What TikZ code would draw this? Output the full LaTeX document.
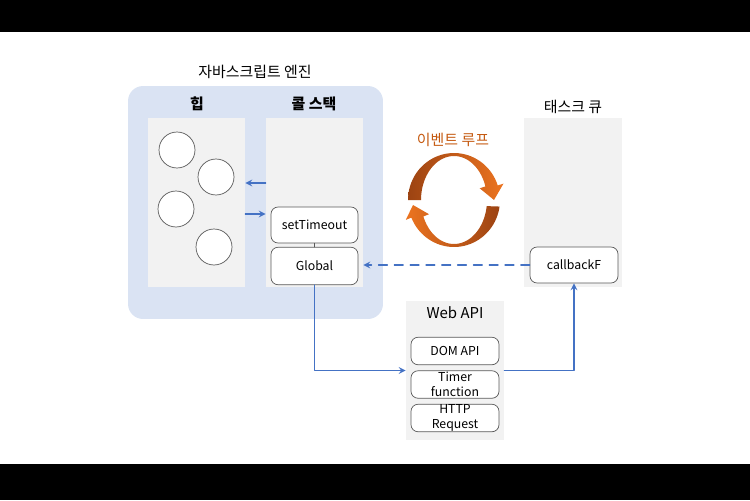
\documentclass[tikz,border=0pt]{standalone}
\usepackage{fontspec}
\setmainfont{Noto Sans CJK KR}
\usetikzlibrary{positioning}
\definecolor{enginebg}{HTML}{DAE3F3}
\definecolor{panelbg}{HTML}{F2F2F2}
\definecolor{boxline}{HTML}{595959}
\definecolor{flowblue}{HTML}{4472C4}
\definecolor{loopdark}{HTML}{9C4312}
\definecolor{looplight}{HTML}{EC7420}
\definecolor{looptext}{HTML}{C55A11}
\begin{document}
\begin{tikzpicture}[x=0.02cm, y=-0.02cm, line cap=round, line join=round, >=stealth,
    font=\fontsize{7}{8.5}\selectfont,
    panel/.style={fill=panelbg, inner sep=0pt, minimum width=1.94cm, minimum height=3.38cm},
    stackbox/.style={draw=boxline, fill=white, rounded corners=4pt, inner sep=0pt,
      align=center, minimum width=1.74cm, minimum height=0.72cm},
    apibox/.style={stackbox, minimum width=1.76cm, minimum height=0.55cm},
    title/.style={font=\fontsize{8.5}{9.5}\selectfont},
    flow/.style={draw=flowblue, line width=0.75pt}]
	\useasboundingbox (0,0) rectangle (750,500);
	\fill[black] (0,0) rectangle (750,32);
	\fill[black] (0,464) rectangle (750,500);
	% engine and its panels
	\node[fill=enginebg, rounded corners=0.3cm, minimum width=5.1cm, minimum height=4.66cm] (engine) at (255.5,202.5) {};
	\node[title] (enginelbl) at (255,72) {자바스크립트 엔진};
	\node[panel] (heap) at (196.5,202.5) {};
	\node[panel] (stack) at (314.5,202.5) {};
	\node[title, font=\fontsize{8.5}{9.5}\selectfont\bfseries] (heaplbl) at (197,104) {힙};
	\node[title, font=\fontsize{8.5}{9.5}\selectfont\bfseries] (stacklbl) at (314,104) {콜 스택};
	\foreach \cx/\cy [count=\i] in {177/150, 216/177, 176/209, 214/247} {
		\node[circle, draw=boxline, fill=white, minimum size=0.72cm, inner sep=0pt] (obj\i) at (\cx,\cy) {};
	}
	\node[stackbox] (settimeout) at (314.5,225) {setTimeout};
	\node[stackbox, minimum height=0.75cm] (global) at (314.5,266) {Global};
	% task queue
	\node[panel, minimum width=1.96cm] (queue) at (573,202.5) {};
	\node[title] (queuelbl) at (573,107) {태스크 큐};
	\node[stackbox, minimum width=1.76cm] (callback) at (574,265) {callbackF};
	% web api
	\node[panel, minimum width=1.96cm, minimum height=2.78cm] (webapi) at (455,370.5) {};
	\node[title] (webapilbl) at (455,313) {Web API};
	\node[apibox] (dom) at (455,351) {DOM API};
	\node[apibox] (timer) at (455,384.5) {Timer\\function};
	\node[apibox] (http) at (455,418) {HTTP\\Request};
	% event loop
	\node[title, text=looptext] (looplbl) at (453,140) {이벤트 루프};
	\shade[left color=loopdark, right color=looplight]
		plot[domain=180:18, samples=40] ({454+46*cos(\x)}, {200-47*sin(\x)})
		-- (503.5,183.6) -- (494,200) -- (479.7,188.3)
		-- plot[domain=18:180, samples=40] ({454+33*cos(\x)}, {200-44*sin(\x)}) -- cycle;
	\shade[left color=looplight, right color=loopdark]
		plot[domain=-8:-158, samples=40] ({454+46*cos(\x)}, {200-47*sin(\x)})
		-- (405.8,219.9) -- (413,205) -- (429,214.2)
		-- plot[domain=-158:-8, samples=40] ({454+33*cos(\x)}, {200-44*sin(\x)}) -- cycle;
	% connectors
	\draw[flow, ->] ([yshift=0.39cm]stack.west) -- ([yshift=0.39cm]heap.east);
	\draw[flow, ->] ([yshift=-0.23cm]heap.east) -- ([yshift=-0.23cm]stack.west);
	\draw[boxline, line width=0.6pt] (settimeout.south) -- (global.north);
	\draw[flow, ->] (global.south) |- (webapi.west);
	\draw[flow, ->] (webapi.east) -| (callback.south);
	\draw[flow, dash pattern=on 5pt off 4pt, ->] (callback.west) -- (stack.east |- callback.west);
\end{tikzpicture}
\end{document}
